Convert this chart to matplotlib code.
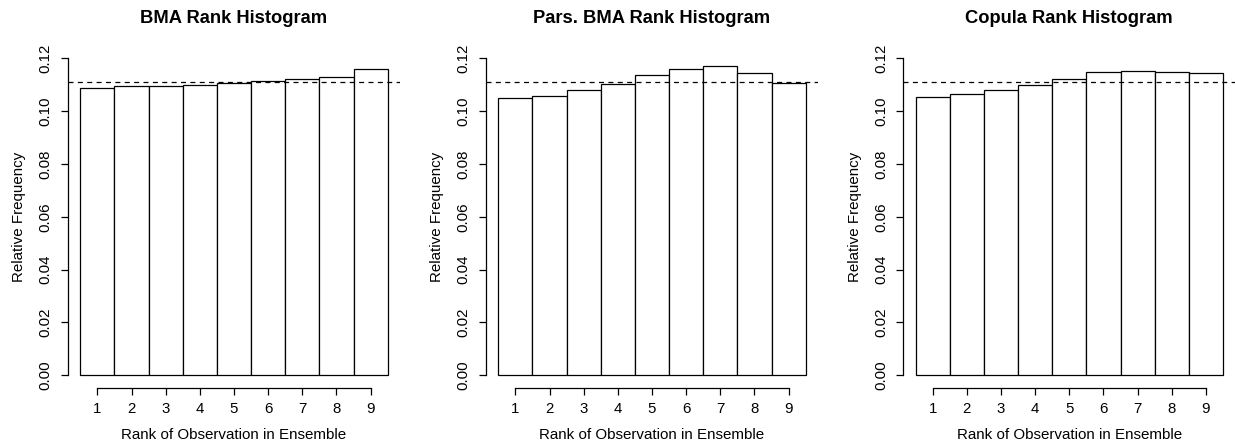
import matplotlib.pyplot as plt
import numpy as np

plt.rcParams['font.family'] = ['Liberation Sans', 'DejaVu Sans']

# rank histogram data (relative frequencies)
ranks = [1, 2, 3, 4, 5, 6, 7, 8, 9]
bma_freq = [0.1089, 0.1094, 0.1096, 0.1100, 0.1107, 0.1115, 0.1123, 0.1129, 0.1160]
pars_bma_freq = [0.1049, 0.1057, 0.1079, 0.1104, 0.1136, 0.1161, 0.1172, 0.1144, 0.1105]
copula_freq = [0.1055, 0.1065, 0.1080, 0.1098, 0.1122, 0.1147, 0.1151, 0.1147, 0.1143]
titles = ['BMA Rank Histogram', 'Pars. BMA Rank Histogram', 'Copula Rank Histogram']
yticks = [0.00, 0.02, 0.04, 0.06, 0.08, 0.10, 0.12]
uniform = 1 / 9

W, H = 1235, 443
fig = plt.figure(figsize=(W / 100, H / 100), dpi=100)

lefts = [68, 486, 903.3]          # pixel position of each y axis
for left, freq, title in zip(lefts, [bma_freq, pars_bma_freq, copula_freq], titles):
    ax = fig.add_axes([left / W, (H - 388) / H, 332 / W, (388 - 45.6) / H])
    ax.bar(ranks, freq, width=1.0, facecolor='white', edgecolor='black', linewidth=0.9)
    ax.axhline(uniform, color='black', linewidth=0.9, dashes=(4, 3.5))
    ax.set_xlim(0.14, 9.86)
    ax.set_ylim(-0.0048, 0.1248)

    for s in ['top', 'right']:
        ax.spines[s].set_visible(False)
    ax.spines['left'].set_bounds(0, 0.12)
    ax.spines['bottom'].set_bounds(1, 9)
    for s in ['left', 'bottom']:
        ax.spines[s].set_linewidth(0.9)

    ax.set_xticks(ranks)
    ax.set_yticks(yticks)
    ax.set_yticklabels(['%.2f' % v for v in yticks], rotation=90, va='center')
    ax.tick_params(length=5, width=0.9, labelsize=10.8, pad=5)
    ax.tick_params(axis='y', pad=6)

    ax.set_title(title, fontsize=13.2, fontweight='bold', pad=16)
    ax.set_xlabel('Rank of Observation in Ensemble', fontsize=10.9, labelpad=9)
    ax.set_ylabel('Relative Frequency', fontsize=10.9, labelpad=9)

fig.savefig('out.png', dpi=100)
